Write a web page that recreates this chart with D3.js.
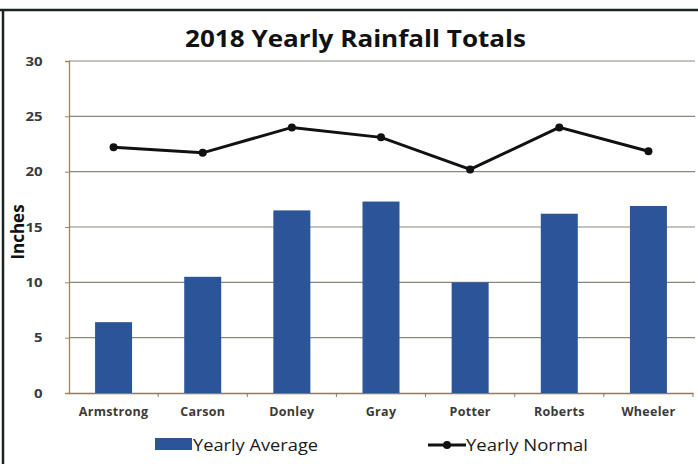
<!DOCTYPE html>
<html lang="en">
<head>
<meta charset="UTF-8">
<title>2018 Yearly Rainfall Totals</title>
<script src="https://cdn.jsdelivr.net/npm/d3@7"></script>
<style>
  body { margin: 0; background: #fff; }
  text { font-family: "Open Sans", Lato, sans-serif; }
</style>
</head>
<body>
<svg id="chart" width="698" height="464"></svg>
<script>
    // data
    let counties = ['Armstrong', 'Carson', 'Donley', 'Gray', 'Potter', 'Roberts', 'Wheeler'];
    let yearlyAverage = [6.4, 10.5, 16.5, 17.3, 10.0, 16.2, 16.9];
    let yearlyNormal = [22.2, 21.7, 24.0, 23.1, 20.2, 24.0, 21.85];
    let yTicks = [0, 5, 10, 15, 20, 25, 30];

    let svg = d3.select('svg#chart');
    let plot = {left: 69, right: 693, top: 61, bottom: 393};
    let barColour = '#2b5597';

    // frame (scanned page border)
    svg.append('line').attr('x1', 0).attr('x2', 698).attr('y1', 10).attr('y2', 10)
        .attr('stroke', '#1c2420').attr('stroke-width', 2.5);
    svg.append('line').attr('x1', 3).attr('x2', 3).attr('y1', 10).attr('y2', 464)
        .attr('stroke', '#1c2420').attr('stroke-width', 2.5);

    let xBand = d3.scaleBand().domain(counties).range([plot.left, plot.right]);
    let yScale = d3.scaleLinear().domain([0, 30]).range([plot.bottom, plot.top]);

    // gridlines
    svg.append('g')
        .selectAll('line')
        .data(yTicks.slice(1))
        .enter()
        .append('line')
        .attr('x1', plot.left).attr('x2', plot.right + 2)
        .attr('y1', d => yScale(d)).attr('y2', d => yScale(d))
        .attr('stroke', '#8c877e').attr('stroke-width', 1.2);

    // y axis
    let yAxis = svg.append('g')
        .attr('transform', `translate(${plot.left},0)`)
        .call(d3.axisLeft(yScale).tickValues(yTicks).tickSize(4).tickPadding(16));
    yAxis.select('.domain').attr('stroke', '#a08660').attr('stroke-width', 1.3);
    yAxis.selectAll('.tick line').attr('stroke', '#a08660');
    yAxis.selectAll('.tick text').attr('font-size', 13).attr('font-weight', 'bold').attr('fill', '#3a3a3a')
        .attr('transform', 'scale(1.15,1)').attr('x', -23);

    // x axis
    let xAxis = svg.append('g')
        .attr('transform', `translate(0,${plot.bottom})`)
        .call(d3.axisBottom(xBand).tickSize(0).tickPadding(14));
    xAxis.select('.domain').attr('stroke', '#8f7a5a').attr('stroke-width', 1.3);
    xAxis.selectAll('.tick text').attr('font-size', 12.5).attr('font-weight', 'bold').attr('fill', '#3d3a35')
        .attr('letter-spacing', 0.3);
    // tick marks between categories
    xAxis.append('g')
        .selectAll('line')
        .data(counties.slice(1).concat(['end']))
        .enter()
        .append('line')
        .attr('x1', (d, i) => plot.left + xBand.step() * (i + 1))
        .attr('x2', (d, i) => plot.left + xBand.step() * (i + 1))
        .attr('y1', 0).attr('y2', 4)
        .attr('stroke', '#8f7a5a');

    // bars
    svg.append('g')
        .style('fill', barColour)
        .selectAll('rect')
        .data(yearlyAverage)
        .enter()
        .append('rect')
        .attr('x', (d, i) => xBand(counties[i]) + xBand.bandwidth() / 2 - 18.5)
        .attr('width', 37)
        .attr('y', d => yScale(d))
        .attr('height', d => yScale(0) - yScale(d));

    // line
    let line = d3.line()
        .x((d, i) => xBand(counties[i]) + xBand.bandwidth() / 2)
        .y(d => yScale(d));
    svg.append('path')
        .datum(yearlyNormal)
        .attr('d', line)
        .attr('fill', 'none')
        .attr('stroke', '#111')
        .attr('stroke-width', 3);
    svg.append('g')
        .selectAll('circle')
        .data(yearlyNormal)
        .enter()
        .append('circle')
        .attr('cx', (d, i) => xBand(counties[i]) + xBand.bandwidth() / 2)
        .attr('cy', d => yScale(d))
        .attr('r', 4)
        .attr('fill', '#111');

    // title
    svg.append('text')
        .attr('x', 185).attr('y', 47)
        .attr('font-size', 24).attr('font-weight', 'bold').attr('fill', '#111')
        .attr('textLength', 341).attr('lengthAdjust', 'spacingAndGlyphs')
        .text('2018 Yearly Rainfall Totals');

    // y label
    svg.append('text')
        .attr('transform', 'translate(24,232) rotate(-90)')
        .attr('text-anchor', 'middle')
        .attr('font-size', 17).attr('font-weight', 'bold').attr('fill', '#111')
        .text('Inches');

    // legend
    let legend = svg.append('g');
    legend.append('rect').attr('x', 155).attr('y', 438).attr('width', 37).attr('height', 12).attr('fill', barColour);
    legend.append('text').attr('x', 193).attr('y', 451).attr('font-size', 16).attr('fill', '#1a1a1a')
        .attr('textLength', 125).attr('lengthAdjust', 'spacingAndGlyphs').text('Yearly Average');
    legend.append('line').attr('x1', 428).attr('x2', 466).attr('y1', 445).attr('y2', 445).attr('stroke', '#111').attr('stroke-width', 3);
    legend.append('circle').attr('cx', 447).attr('cy', 445).attr('r', 4).attr('fill', '#111');
    legend.append('text').attr('x', 466).attr('y', 451).attr('font-size', 16).attr('fill', '#1a1a1a')
        .attr('textLength', 122).attr('lengthAdjust', 'spacingAndGlyphs').text('Yearly Normal');
</script>
</body>
</html>
